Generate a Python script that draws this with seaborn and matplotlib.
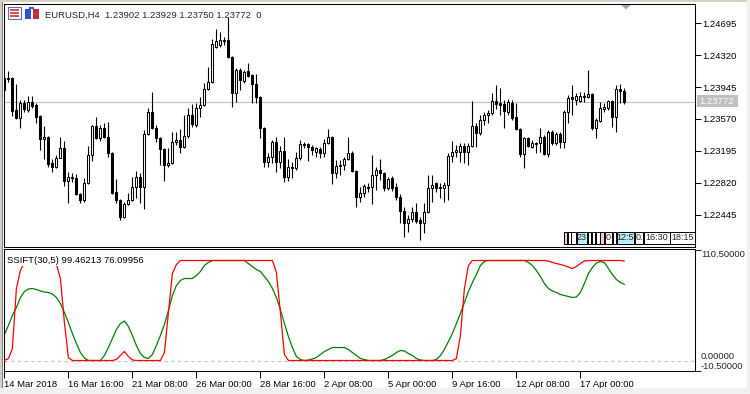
import numpy as np
import pandas as pd
import matplotlib
matplotlib.use("Agg")
import matplotlib.pyplot as plt
import seaborn as sns
from matplotlib.patches import Rectangle, Polygon

# EURUSD H4 candles, 14 Mar 2018 00:00 onwards
opens = [1.24050, 1.24050, 1.24050, 1.23675, 1.23581, 1.23757, 1.23675, 1.23769, 1.23733, 1.23605,
         1.23334, 1.23358, 1.23053, 1.23006, 1.23111, 1.23229, 1.22841, 1.22889, 1.22877, 1.22689,
         1.22619, 1.22818, 1.23146, 1.23488, 1.23346, 1.23464, 1.23358, 1.23170, 1.22713, 1.22619,
         1.22419, 1.22572, 1.22619, 1.22771, 1.22889, 1.22771, 1.23393, 1.23652, 1.23464, 1.23346,
         1.23217, 1.23029, 1.23053, 1.23299, 1.23323, 1.23241, 1.23370, 1.23616, 1.23499, 1.23698,
         1.23733, 1.23922, 1.24003, 1.24414, 1.24438, 1.24497, 1.24497, 1.24297, 1.23875, 1.24144,
         1.24015, 1.24132, 1.24086, 1.23980, 1.23828, 1.23464, 1.23064, 1.23123, 1.23299, 1.23064,
         1.23193, 1.22889, 1.23006, 1.22994, 1.23111, 1.23276, 1.23276, 1.23241, 1.23182, 1.23217,
         1.23170, 1.23288, 1.23358, 1.22936, 1.23018, 1.23029, 1.23099, 1.23170, 1.22959, 1.22654,
         1.22701, 1.22771, 1.22771, 1.22912, 1.22971, 1.22936, 1.22759, 1.22877, 1.22771, 1.22654,
         1.22489, 1.22349, 1.22396, 1.22478, 1.22384, 1.22349, 1.22478, 1.22759, 1.22818, 1.22759,
         1.22759, 1.22795, 1.23135, 1.23182, 1.23182, 1.23252, 1.23182, 1.23252, 1.23488, 1.23405,
         1.23558, 1.23616, 1.23640, 1.23780, 1.23757, 1.23745, 1.23652, 1.23757, 1.23593, 1.23452,
         1.23158, 1.23346, 1.23241, 1.23288, 1.23288, 1.23358, 1.23158, 1.23417, 1.23288, 1.23393,
         1.23299, 1.23652, 1.23828, 1.23792, 1.23780, 1.23840, 1.23828, 1.23863, 1.23464, 1.23546,
         1.23686, 1.23698, 1.23780, 1.23593, 1.23922, 1.23902]
highs = [1.24121, 1.24132, 1.24062, 1.23980, 1.23792, 1.23792, 1.23840, 1.23840, 1.23757, 1.23616,
         1.23488, 1.23370, 1.23099, 1.23146, 1.23358, 1.23311, 1.22948, 1.22936, 1.22924, 1.22701,
         1.22877, 1.23252, 1.23499, 1.23593, 1.23499, 1.23523, 1.23535, 1.23182, 1.22865, 1.22631,
         1.22596, 1.22701, 1.22889, 1.22959, 1.22936, 1.23440, 1.23698, 1.23887, 1.23499, 1.23358,
         1.23229, 1.23229, 1.23417, 1.23417, 1.23452, 1.23616, 1.23698, 1.23745, 1.23757, 1.23828,
         1.23991, 1.24180, 1.24508, 1.24626, 1.24591, 1.24532, 1.24766, 1.24309, 1.24168, 1.24168,
         1.24144, 1.24227, 1.24097, 1.24097, 1.23840, 1.23476, 1.23170, 1.23323, 1.23358, 1.23252,
         1.23358, 1.23099, 1.23064, 1.23182, 1.23323, 1.23299, 1.23288, 1.23264, 1.23241, 1.23241,
         1.23334, 1.23452, 1.23370, 1.23088, 1.23088, 1.23123, 1.23358, 1.23193, 1.22971, 1.22771,
         1.22806, 1.22818, 1.23146, 1.23006, 1.23099, 1.22948, 1.22889, 1.22900, 1.22818, 1.22689,
         1.22537, 1.22442, 1.22537, 1.22584, 1.22419, 1.22584, 1.22912, 1.22912, 1.22830, 1.22818,
         1.22830, 1.23170, 1.23311, 1.23264, 1.23288, 1.23288, 1.23288, 1.23780, 1.23523, 1.23616,
         1.23652, 1.23675, 1.23875, 1.23968, 1.23934, 1.23792, 1.23804, 1.23792, 1.23757, 1.23464,
         1.23358, 1.23358, 1.23323, 1.23299, 1.23464, 1.23381, 1.23440, 1.23440, 1.23417, 1.23417,
         1.23675, 1.23851, 1.23968, 1.23875, 1.23887, 1.23887, 1.24144, 1.23875, 1.23581, 1.23769,
         1.23757, 1.23792, 1.23792, 1.23968, 1.23980, 1.23929]
lows = [1.23887, 1.24003, 1.23605, 1.23570, 1.23464, 1.23652, 1.23652, 1.23698, 1.23523, 1.23205,
        1.23099, 1.23006, 1.22948, 1.22994, 1.23111, 1.22783, 1.22584, 1.22830, 1.22677, 1.22584,
        1.22596, 1.22806, 1.23076, 1.23334, 1.23311, 1.23346, 1.23123, 1.22689, 1.22584, 1.22384,
        1.22407, 1.22560, 1.22607, 1.22642, 1.22584, 1.22513, 1.23381, 1.23452, 1.23299, 1.23029,
        1.22841, 1.23006, 1.23041, 1.23264, 1.23170, 1.23229, 1.23346, 1.23476, 1.23476, 1.23593,
        1.23722, 1.23910, 1.23991, 1.24403, 1.24414, 1.24438, 1.24285, 1.23710, 1.23769, 1.23910,
        1.23991, 1.24062, 1.23757, 1.23757, 1.23346, 1.23006, 1.23006, 1.23053, 1.22948, 1.22994,
        1.22830, 1.22841, 1.22877, 1.22971, 1.23088, 1.23229, 1.23076, 1.23146, 1.23123, 1.23111,
        1.23123, 1.23276, 1.22806, 1.22877, 1.22912, 1.22971, 1.23088, 1.22948, 1.22537, 1.22596,
        1.22654, 1.22713, 1.22572, 1.22736, 1.22853, 1.22724, 1.22736, 1.22724, 1.22619, 1.22349,
        1.22184, 1.22243, 1.22361, 1.22349, 1.22149, 1.22231, 1.22466, 1.22596, 1.22713, 1.22642,
        1.22596, 1.22619, 1.23064, 1.23123, 1.23064, 1.23053, 1.23029, 1.23241, 1.23241, 1.23381,
        1.23499, 1.23523, 1.23616, 1.23686, 1.23616, 1.23464, 1.23616, 1.23558, 1.23440, 1.23123,
        1.22994, 1.23241, 1.23229, 1.23170, 1.23182, 1.23146, 1.23123, 1.23264, 1.23264, 1.23229,
        1.23229, 1.23523, 1.23616, 1.23733, 1.23769, 1.23769, 1.23816, 1.23440, 1.23346, 1.23535,
        1.23652, 1.23675, 1.23476, 1.23417, 1.23757, 1.23750]
closes = [1.23910, 1.24044, 1.23663, 1.23581, 1.23757, 1.23686, 1.23769, 1.23722, 1.23593, 1.23334,
          1.23358, 1.23041, 1.23006, 1.23111, 1.23229, 1.22841, 1.22889, 1.22883, 1.22689, 1.22619,
          1.22818, 1.23146, 1.23488, 1.23346, 1.23464, 1.23358, 1.23170, 1.22701, 1.22619, 1.22419,
          1.22572, 1.22619, 1.22771, 1.22889, 1.22771, 1.23393, 1.23652, 1.23464, 1.23346, 1.23217,
          1.23029, 1.23053, 1.23299, 1.23323, 1.23241, 1.23370, 1.23616, 1.23511, 1.23698, 1.23733,
          1.23922, 1.24003, 1.24449, 1.24485, 1.24497, 1.24485, 1.24297, 1.23875, 1.24144, 1.24027,
          1.24121, 1.24074, 1.23980, 1.23828, 1.23464, 1.23064, 1.23123, 1.23299, 1.23064, 1.23193,
          1.22889, 1.23006, 1.22994, 1.23111, 1.23276, 1.23270, 1.23241, 1.23205, 1.23229, 1.23170,
          1.23288, 1.23358, 1.22936, 1.23018, 1.23029, 1.23099, 1.23170, 1.22959, 1.22654, 1.22701,
          1.22783, 1.22765, 1.22912, 1.22971, 1.22936, 1.22759, 1.22865, 1.22759, 1.22654, 1.22489,
          1.22349, 1.22396, 1.22478, 1.22372, 1.22349, 1.22478, 1.22759, 1.22795, 1.22759, 1.22771,
          1.22795, 1.23135, 1.23182, 1.23205, 1.23252, 1.23182, 1.23252, 1.23488, 1.23405, 1.23558,
          1.23616, 1.23640, 1.23780, 1.23745, 1.23733, 1.23663, 1.23769, 1.23581, 1.23452, 1.23158,
          1.23346, 1.23252, 1.23288, 1.23282, 1.23358, 1.23158, 1.23417, 1.23288, 1.23393, 1.23299,
          1.23652, 1.23816, 1.23804, 1.23840, 1.23840, 1.23828, 1.23863, 1.23464, 1.23558, 1.23698,
          1.23710, 1.23780, 1.23593, 1.23922, 1.23898, 1.23772]

# SSIFT(30,5) indicator
ssift_red = [0, 2, 12, 72, 90, 98, 100, 100, 100, 100, 100, 100, 100, 96, 82, 38, 3, 0, 0, 0,
             0, 0, 0, 0, 0, 0, 0, 0, 1, 5, 9, 4, 0.5, 0, 0, 0, 0, 0, 0, 0,
             8, 48, 87, 96, 100, 100, 100, 100, 100, 100, 100, 100, 100, 100, 100, 100, 100, 100, 100, 100,
             100, 100, 100, 100, 100, 100, 100, 100, 88, 48, 6, 0, 0, 0, 0, 0, 0, 0, 0, 0,
             0, 0, 0, 0, 0, 0, 0, 0, 0, 0, 0, 0, 0, 0, 0, 0, 0, 0, 0, 0,
             0, 0, 0, 0, 0, 0, 0, 0, 0, 0, 0, 0, 0, 2, 25, 72, 95, 100, 100, 100,
             100, 100, 100, 100, 100, 100, 100, 100, 100, 100, 100, 100, 100, 100, 100, 100, 99.5, 98, 97, 96,
             95, 93.5, 92, 94, 97, 99.5, 100, 100, 100, 100, 100, 100, 100, 100, 100, 99.46213]
ssift_green = [26, 35, 45, 53, 63, 69, 71.5, 72, 71, 69.5, 68.5, 68, 66.5, 63, 57, 48, 38, 27, 17, 8,
               2.5, 0, 0, 0, 0, 5, 13, 22, 31, 37, 39.5, 34, 25, 15, 7, 3, 2, 6, 15, 25,
               36, 50, 65, 75, 80, 82, 82, 82, 85, 89, 95, 98, 100, 100, 100, 100, 100, 100, 100, 100,
               100, 97, 94, 91, 89, 84, 79, 72, 63, 51, 37, 24, 13, 4, 1, 0, 0.5, 1.5, 3, 6,
               9, 11, 13, 13, 13, 13, 11, 8, 5, 2, 1, 0, 0, 0, 0, 1, 3, 5, 8, 10,
               9.5, 7, 5, 2, 0.5, 0, 0, 0, 1, 5, 11, 19, 27, 37, 47, 58, 69, 78, 86, 95,
               99, 100, 100, 100, 100, 100, 100, 100, 100, 100, 100, 98, 95, 90, 84, 77, 72, 69.5, 68, 66,
               65, 64, 63, 63.5, 68, 77, 87, 93, 97.5, 99, 98, 92, 86, 81, 78, 76.09956]

date_ticks = [0, 16, 32, 48, 64, 80, 96, 112, 128, 144]
date_labels = ["14 Mar 2018", "16 Mar 16:00", "21 Mar 08:00", "26 Mar 00:00", "28 Mar 16:00",
               "2 Apr 08:00", "5 Apr 00:00", "9 Apr 16:00", "12 Apr 08:00", "17 Apr 00:00"]
price_ticks = [1.24695, 1.24320, 1.23945, 1.23570, 1.23195, 1.22820, 1.22445]
last_price = 1.23772

sns.set_theme(style="white")
plt.rcParams['font.family'] = ['Liberation Sans', 'DejaVu Sans']
FS = 6.8

W, H = 750, 394
fig = plt.figure(figsize=(W / 100, H / 100), dpi=100)
fig.patch.set_facecolor("white")


def box(l, t, r, b):
    return [l / W, 1 - b / H, (r - l) / W, (b - t) / H]


def fx(x):
    return x / W


def fy(y):
    return 1 - y / H


ax = fig.add_axes(box(4, 4, 695, 246.5))
ax2 = fig.add_axes(box(4, 248.5, 695, 371))

df = pd.DataFrame({"bar": np.arange(len(closes)), "open": opens, "high": highs,
                   "low": lows, "close": closes})
df["body"] = df["close"] - df["open"]
up = df["body"] >= 0

# candles
ax.axhline(last_price, color="#c0c0c0", lw=0.8, zorder=1)
ax.vlines(df["bar"], df["low"], df["high"], color="black", lw=0.8, zorder=2)
ax.bar(df["bar"][up], df["body"][up], bottom=df["open"][up], width=0.5,
       color="white", edgecolor="black", linewidth=0.75, zorder=3)
ax.bar(df["bar"][~up], df["body"][~up], bottom=df["open"][~up], width=0.5,
       color="black", edgecolor="black", linewidth=0.75, zorder=3)

ax.set_xlim(-0.1, 172.65)
ax.set_ylim(1.220735, 1.24919)
ax.set_xticks([])
ax.yaxis.tick_right()
ax.set_yticks(price_ticks)
ax.set_yticklabels([f"{p:.5f}" for p in price_ticks])
ax.tick_params(axis="y", direction="out", length=4, width=0.75, pad=1.5,
               labelsize=FS, colors="black", right=True)
ax.set_ylabel("")

# indicator panel
ind = pd.DataFrame({"bar": np.arange(len(ssift_red)), "red": ssift_red, "green": ssift_green})
ax2.axhline(0, color="#c0c0c0", lw=0.8, ls=(0, (3, 3)), zorder=1)
sns.lineplot(data=ind, x="bar", y="green", color="#008000", lw=0.9, ax=ax2, zorder=2)
sns.lineplot(data=ind, x="bar", y="red", color="#ff0000", lw=0.9, ax=ax2, zorder=3)
ax2.set_xlim(-0.1, 172.65)
ax2.set_ylim(-10.5, 112)
ax2.set_xlabel("")
ax2.set_ylabel("")
ax2.set_xticks(date_ticks)
ax2.set_xticklabels(date_labels)
for t in ax2.get_xticklabels():
    t.set_ha("left")
ax2.tick_params(axis="x", direction="out", length=5, width=0.75, pad=1.5,
                labelsize=FS, colors="black", bottom=True)
ax2.yaxis.tick_right()
ax2.set_yticks([-10.5, 110.5])
ax2.set_yticklabels(["", ""])
ax2.tick_params(axis="y", direction="out", length=4, width=0.75, right=True)

for a in (ax, ax2):
    for s in a.spines.values():
        s.set_color("black")
        s.set_linewidth(0.75)

ax2.text(0.004, 0.905, "SSIFT(30,5) 99.46213 76.09956", transform=ax2.transAxes,
         fontsize=FS, color="black", va="center", ha="left", zorder=5,
         bbox=dict(facecolor="white", edgecolor="none", pad=1.2))

fig.text(fx(701), fy(254.5), "110.50000", fontsize=FS, va="center", ha="left")
fig.text(fx(701), fy(356.8), "0.00000", fontsize=FS, va="center", ha="left")
fig.text(fx(701), fy(366.2), "-10.50000", fontsize=FS, va="center", ha="left")

# last price tag
fig.patches.append(Rectangle((fx(697), fy(106.5)), (738 - 697) / W, 11 / H,
                             transform=fig.transFigure, facecolor="#c0c0c0",
                             edgecolor="none", zorder=4))
fig.text(fx(699), fy(101.3), "1.23772", fontsize=FS, color="white", va="center",
         ha="left", zorder=5)

# header
fig.text(fx(45), fy(15.5), "EURUSD,H4  1.23902 1.23929 1.23750 1.23772  0",
         fontsize=FS, va="center", ha="left")
fig.patches.append(Rectangle((fx(8), fy(19)), 13 / W, 12 / H, transform=fig.transFigure,
                             facecolor="white", edgecolor="#5070c0", lw=0.8))
for k in range(3):
    fig.patches.append(Rectangle((fx(10), fy(11 + 3 * k)), 9 / W, 1.6 / H,
                                 transform=fig.transFigure, facecolor="#e05050",
                                 edgecolor="none"))
fig.patches.append(Rectangle((fx(25), fy(19)), 6 / W, 10 / H, transform=fig.transFigure,
                             facecolor="#3050d0", edgecolor="none"))
fig.patches.append(Rectangle((fx(33), fy(19)), 6 / W, 10 / H, transform=fig.transFigure,
                             facecolor="#c03030", edgecolor="none"))
fig.patches.append(Rectangle((fx(29), fy(9)), 5 / W, 2 / H, transform=fig.transFigure,
                             facecolor="#3050d0", edgecolor="none"))

# chart shift marker
fig.patches.append(Polygon([(fx(621), fy(5)), (fx(631), fy(5)), (fx(626), fy(9.5))],
                           closed=True, transform=fig.transFigure, facecolor="#a8a8a8",
                           edgecolor="none"))

# session boxes
sessions = [(564, 567, "#ffc8d0", ""), (567.5, 570.5, "white", ""), (571, 576, "white", ""),
            (577, 587, "#b8eef8", "23"), (587.5, 591, "white", ""), (591.5, 595, "white", ""),
            (595.5, 600, "white", ""), (600, 604, "#ffc8d0", ""), (605, 612, "white", "0"),
            (612.5, 616, "white", ""), (617, 634, "#b8eef8", "12:5"), (635, 643, "white", "0."),
            (644, 670, "white", "16:30"), (670, 695, "white", "18:15")]
for l, r, c, s in sessions:
    fig.patches.append(Rectangle((fx(l), fy(243.5)), (r - l) / W, 12 / H,
                                 transform=fig.transFigure, facecolor=c,
                                 edgecolor="black", lw=0.7, zorder=4))
    if s:
        fig.text(fx((l + r) / 2), fy(237.5), s, fontsize=FS - 0.3, ha="center", va="center",
                 zorder=5)

# window frame
fig.patches.append(Rectangle((0, 0), 2 / W, 1, transform=fig.transFigure,
                             facecolor="#d4d0c8", edgecolor="none"))
fig.patches.append(Rectangle((2 / W, 0), 1 / W, 1, transform=fig.transFigure,
                             facecolor="#808080", edgecolor="none"))
fig.patches.append(Rectangle((0, fy(2)), 1, 2 / H, transform=fig.transFigure,
                             facecolor="#d4d0c8", edgecolor="none"))
fig.patches.append(Rectangle((0, 0), 1, 6 / H, transform=fig.transFigure,
                             facecolor="#f0f0f0", edgecolor="none"))
fig.patches.append(Rectangle((fx(747), 0), 3 / W, 1, transform=fig.transFigure,
                             facecolor="#f0f0f0", edgecolor="none"))

fig.savefig("out.png", dpi=100, facecolor="white")
